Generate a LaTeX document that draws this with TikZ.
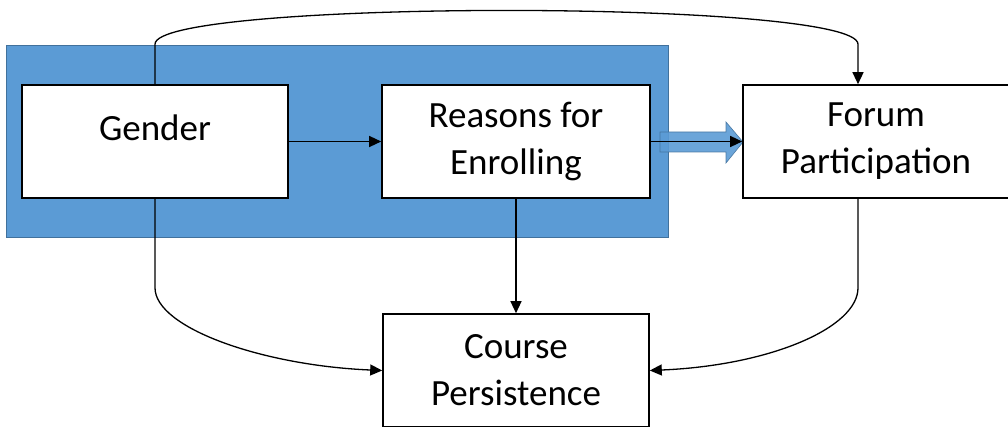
\documentclass[tikz,border=0pt]{standalone}
\usepackage{fontspec}
\setmainfont{Carlito}
\usetikzlibrary{arrows.meta,calc}
\definecolor{boxblue}{HTML}{5B9BD5}
\definecolor{edgeblue}{HTML}{41719C}
\tikzset{
  box/.style={draw, line width=1.6pt, fill=white, minimum width=266pt, minimum height=113pt,
    inner sep=0pt, align=center, font=\fontsize{37}{47}\selectfont},
  conn/.style={-{Triangle[length=12pt,width=11pt]}, line width=1.3pt},
}
\begin{document}
\begin{tikzpicture}[x=1pt,y=-1pt]
  \useasboundingbox (0,0) rectangle (1008,427);

  % Riquadro blu dietro Gender e Reasons
  \draw[fill=boxblue, draw=edgeblue, line width=1pt] (6,46) rectangle (668,238);
  % Freccia larga verso Forum
  \draw[fill=boxblue, draw=edgeblue, line width=0.6pt, opacity=0.9]
    (660,132) -- (726,132) -- (726,122) -- (743,142) -- (726,163) -- (726,152) -- (660,152) -- cycle;

  % Riquadri
  \node[box, text height=26pt, text depth=28pt] (gender) at (155,141.5) {Gender};
  \node[box, minimum width=268pt] (reasons) at (516,141.5) {Reasons for\\Enrolling};
  \node[box] (forum) at (876,141.5) {Forum\\Participation};
  \node[box] (course) at (516,370.5) {Course\\Persistence};
  \coordinate (forumtop) at ([xshift=-18pt]forum.north);
  \coordinate (forumbot) at ([xshift=-18pt]forum.south);

  % Frecce dirette
  \draw[conn] (gender) -- (reasons);
  \draw[conn] (reasons) -- (forum);
  \draw[conn] (reasons) -- (course);

  % Frecce curve
  \draw[conn] (gender.north) -- ++(0,-40) .. controls +(0,-45) and +(0,-45) .. ($(forumtop)+(0,-40)$) -- (forumtop);
  \draw[conn] (gender.south) -- ++(0,89) .. controls +(0,40) and +(-120,-5) .. (course.west);
  \draw[conn] (forumbot) -- ++(0,89) .. controls +(0,40) and +(120,-5) .. (course.east);
\end{tikzpicture}
\end{document}
